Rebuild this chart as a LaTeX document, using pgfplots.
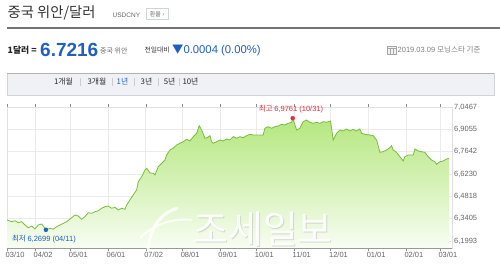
\documentclass[border=0pt]{standalone}
\usepackage{fontspec}
\setmainfont{Noto Sans CJK KR}
\newfontfamily\lib{Liberation Sans}
\usepackage{pgfplots}
\usepackage{pgfplotstable}
\pgfplotsset{compat=1.18}
\definecolor{linegreen}{HTML}{78BE3C}
\definecolor{fillgreen}{HTML}{B4E77E}
\definecolor{fillbot}{HTML}{F8FDF2}
\definecolor{navblue}{HTML}{1F5FBF}
\definecolor{hired}{HTML}{E0303A}
\definecolor{txtgray}{HTML}{666666}
\definecolor{tabfill}{HTML}{EFF1F5}
\definecolor{tabline}{HTML}{CFD3DA}

\pgfplotstableread{
d v
0 6.3321
3.9 6.3214
6.6 6.3277
9.3 6.3150
12.1 6.3214
14.8 6.3005
17.5 6.2834
20.3 6.2942
23.0 6.2752
25.7 6.3005
28.5 6.3068
31.2 6.2796
32 6.2699
35.4 6.2796
38.1 6.2740
40.9 6.2897
43.6 6.3005
46.3 6.3112
49.1 6.3214
52.6 6.3429
55.9 6.3637
58.6 6.3574
61.4 6.3365
64.1 6.3530
66.8 6.3783
69.6 6.3745
72.4 6.3846
75.1 6.3909
77.9 6.4061
80.6 6.4162
83.3 6.4206
86.1 6.4061
88.8 6.4124
91.5 6.3953
94.3 6.4061
97.0 6.3998
98.4 6.4270
101.1 6.4586
103.8 6.4902
106.6 6.5218
108.0 6.5743
110.7 6.6059
113.5 6.6483
114.9 6.6591
117.6 6.6300
120.3 6.6274
121.7 6.6167
124.4 6.6692
127.2 6.6907
129.9 6.7115
131.3 6.7432
134.0 6.7748
136.7 6.7855
139.5 6.8064
142.2 6.8172
145.0 6.8273
147.7 6.8425
150.5 6.8317
153.2 6.8589
156.0 6.8804
158.1 6.9285
160.1 6.9013
162.8 6.8488
164.7 6.8526
166.9 6.8652
168.3 6.8273
169.6 6.8172
172.4 6.8273
175.1 6.8380
177.8 6.8317
180.6 6.8443
183.3 6.8380
186.1 6.8589
188.9 6.8488
191.6 6.8589
194.3 6.8526
197.1 6.8652
199.8 6.8741
202.5 6.8696
210.7 6.8696
212.1 6.9120
214.8 6.9221
217.6 6.9120
220.3 6.9221
223.1 6.9266
225.8 6.9373
228.6 6.9329
231.3 6.9436
234.1 6.9500
235 6.9761
238.2 6.9013
240.9 6.9120
243.6 6.9538
246.4 6.9645
249.1 6.9500
251.9 6.9436
254.6 6.9500
257.3 6.9436
260.1 6.9538
262.8 6.9500
266.1 6.9582
268.3 6.8380
271.1 6.8804
273.8 6.9013
276.5 6.8949
279.3 6.9076
282.0 6.8949
284.7 6.9057
287.5 6.8949
290.2 6.9076
291.6 6.8804
294.4 6.8741
298.5 6.8696
301.2 6.8652
304.0 6.8380
306.7 6.7602
309.4 6.7640
312.2 6.7748
314.9 6.7893
316.3 6.8020
317.6 6.7748
320.4 6.7602
323.1 6.7324
325.9 6.7052
327.2 6.7324
330.0 6.7432
334.1 6.7432
335.5 6.7811
338.2 6.7685
341.0 6.7640
343.7 6.7602
346.4 6.7324
349.2 6.7115
351.9 6.7008
353.3 6.6844
356.0 6.7008
358.7 6.7052
361.5 6.7179
363.4 6.7216
}\data

\begin{document}
\begin{tikzpicture}[x=1pt,y=1pt]
\useasboundingbox (0,0) rectangle (500,268);
\fill[white] (0,0) rectangle (500,268);
\coordinate (axisSW) at (7,20);
% ---- header ----
\node[anchor=west, inner sep=0pt, text=black!80] at (7.5,255) {\fontsize{14.3}{17}\selectfont 중국 위안/달러};
\node[anchor=west, inner sep=0pt, text=txtgray] at (112.5,253) {\lib\fontsize{6.5}{8}\selectfont USDCNY};
\draw[tabline, fill=white] (146,248.5) rectangle (168,259.5);
\node[inner sep=0pt, text=txtgray] at (157,254) {\fontsize{6}{7}\selectfont 환율 ›};
\draw[black!55, line width=1.3pt] (7,240) -- (500,240);
% ---- row 2 ----
\node[anchor=west, inner sep=0pt, text=black!85] at (7.5,218) {\fontsize{8.8}{10}\selectfont\bfseries 1달러 =};
\node[anchor=west, inner sep=0pt, text=navblue] at (40,218.5) {\lib\fontsize{19}{22}\selectfont\bfseries 6.7216};
\node[anchor=west, inner sep=0pt, text=txtgray] at (100,217.5) {\fontsize{7}{8}\selectfont 중국 위안};
\node[anchor=west, inner sep=0pt, text=black!80] at (144.5,218) {\fontsize{6.8}{8}\selectfont 전일대비};
\node[anchor=west, inner sep=0pt, text=navblue] at (172,218) {\fontsize{11.3}{12}\selectfont ▼\lib 0.0004 (0.00\%)};
\draw[black!35, fill=black!5] (387,214) rectangle (396,222);
\draw[black!35] (387,219.5) -- (396,219.5) (390,214) -- (390,219.5) (393,214) -- (393,219.5);
\node[anchor=west, inner sep=0pt, text=black!50] at (397.5,218) {\fontsize{7.5}{9}\selectfont\lib 2019.03.09 \rmfamily 모닝스타 기준};
% ---- tab bar ----
\draw[tabline, fill=tabfill] (7,173) rectangle (494,195);
\draw[black!30] (7,195) -- (494,195);
\begin{scope}[every node/.style={inner sep=0pt, font=\fontsize{7.8}{9}\selectfont}]
\node[text=black!85] at (63.5,186) {1개월};
\node[text=black!85] at (97,186) {3개월};
\node[text=navblue] at (122.5,186) {1년};
\node[text=black!85] at (146.5,186) {3년};
\node[text=black!85] at (169.5,186) {5년};
\node[text=black!85] at (190.5,186) {10년};
\end{scope}
\foreach \sx in {80,112,134,158,179}{\draw[black!20] (\sx,182) -- (\sx,190);}
% ---- chart ----
\begin{axis}[
  at={(axisSW)}, anchor=south west,
  scale only axis, width=445pt, height=141pt,
  xmin=0, xmax=366, ymin=6.155, ymax=7.0467,
  axis line style={draw=black!12},
  xtick={0,23,52,83,114,144,175,205,236,266,297,328,356},
  xticklabels={03/10,04/02,05/01,06/01,07/02,08/01,09/01,10/01,11/01,12/01,01/01,02/01,03/01},
  ytick={6.1993,6.3405,6.4818,6.6230,6.7642,6.9055,7.0467},
  yticklabels={{6,1993},{6,3405},{6,4818},{6,6230},{6,7642},{6,9055},{7,0467}},
  yticklabel pos=right,
  tick align=outside,
  major tick length=3pt,
  xtick style={draw=black!45},
  ytick style={draw=none},
  xticklabel style={anchor=north west, inner sep=0pt, xshift=-1.5pt, yshift=-1pt, text=txtgray, font=\lib\fontsize{7.5}{9}\selectfont},
  yticklabel style={anchor=west, inner sep=0pt, xshift=-1pt, text=txtgray, font=\lib\fontsize{7.5}{9}\selectfont},
  grid=major,
  major grid style={draw=black!8},
  clip mode=individual,
]
\addplot[draw=none, top color=fillgreen, bottom color=fillbot] table[x=d,y=v] {\data}
  -- (axis cs:363.4,6.155) -- (axis cs:0,6.155) -- cycle;
\addplot[linegreen, line width=0.8pt, mark=none] table[x=d,y=v] {\data};
\draw[black!40] (rel axis cs:0,0) -- (rel axis cs:1,0);
\addplot[only marks, mark=*, mark size=2pt, color=navblue] coordinates {(32,6.2699)};
\addplot[only marks, mark=*, mark size=2pt, color=hired] coordinates {(235,6.9761)};
\node[anchor=west, inner sep=0pt, text=navblue] at (axis cs:4,6.212) {\fontsize{7.5}{9}\selectfont 최저 \lib 6,2699 (04/11)};
\node[anchor=west, inner sep=0pt, text=hired] at (axis cs:207,7.034) {\fontsize{7.5}{9}\selectfont 최고 \lib 6,9761 (10/31)};
\end{axis}
% ---- watermark ----
\node[text=black!30, opacity=0.45] at (264,38) {\fontsize{38}{40}\selectfont 조세일보};
\node[text=white, opacity=0.92] at (263,39) {\fontsize{38}{40}\selectfont 조세일보};
\draw[white, line width=3pt, opacity=0.85] (148,18) .. controls (150,40) and (160,55) .. (178,60);
\draw[white, line width=2pt, opacity=0.85] (140,30) .. controls (155,45) and (175,50) .. (192,48);
\end{tikzpicture}
\end{document}
